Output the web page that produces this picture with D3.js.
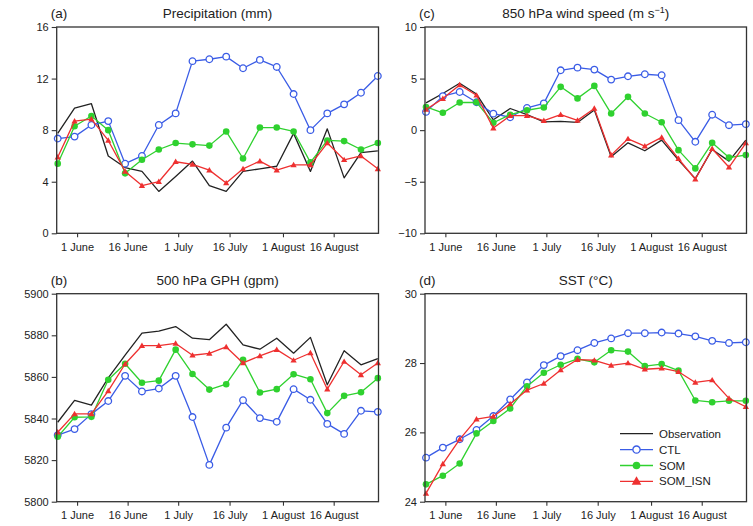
<!DOCTYPE html>
<html>
<head>
<meta charset="utf-8">
<script src="https://cdn.jsdelivr.net/npm/d3@7"></script>
<style>
  body { margin: 0; background: #fff; }
  svg { font-family: "Liberation Sans", Arial, Helvetica, sans-serif; }
</style>
</head>
<body>
<div class="chartContainer"></div>
<script>
// pentad means, one point every 5 days from 26 May
var pentads = ["26 May", "31 May", "5 Jun", "10 Jun", "15 Jun", "20 Jun", "25 Jun", "30 Jun", "5 Jul", "10 Jul",
  "15 Jul", "20 Jul", "25 Jul", "30 Jul", "4 Aug", "9 Aug", "14 Aug", "19 Aug", "24 Aug", "29 Aug"];

// x axis labels and where they fall (in pentad units)
var xTickLabels = ["1 June", "16 June", "1 July", "16 July", "1 August", "16 August"];
var xTickPentad = [1.15, 4.15, 7.15, 10.2, 13.37, 16.38];

var legendNames = ["Observation", "CTL", "SOM", "SOM_ISN"];

// (a) precipitation (mm)
var precipObs = [7.75, 9.7, 10.05, 6.0, 5.1, 4.8, 3.25, 4.4, 5.6, 3.7, 3.25, 4.8, 5.0, 5.2, 7.75, 4.8, 8.1, 4.3, 6.25, 6.4];
var precipCtl = [7.35, 7.5, 8.4, 8.7, 5.4, 6.0, 8.4, 9.3, 13.35, 13.5, 13.7, 12.8, 13.45, 12.9, 10.8, 8.0, 9.3, 10.0, 10.9, 12.2];
var precipSom = [5.4, 8.3, 9.1, 8.0, 4.65, 5.7, 6.5, 7.0, 6.9, 6.8, 7.9, 5.8, 8.2, 8.2, 7.9, 5.5, 7.2, 7.15, 6.5, 7.0];
var precipIsn = [5.9, 8.7, 8.85, 7.2, 4.8, 3.7, 4.0, 5.55, 5.35, 4.9, 3.9, 5.0, 5.6, 4.9, 5.3, 5.3, 7.0, 5.7, 6.0, 5.0];

// (c) 850 hPa wind speed (m/s)
var windObs = [2.65, 3.55, 4.55, 3.5, 1.0, 2.1, 1.5, 0.8, 0.85, 0.75, 1.95, -2.58, -1.23, -2.0, -0.97, -2.9, -4.7, -1.87, -3.0, -0.97];
var windCtl = [1.77, 3.3, 3.7, 2.7, 1.6, 1.25, 2.15, 2.6, 5.8, 6.06, 5.87, 4.9, 5.22, 5.42, 5.32, 0.97, -1.13, 1.5, 0.48, 0.58];
var windSom = [2.25, 1.68, 2.68, 2.7, 0.72, 1.5, 1.93, 2.2, 4.2, 3.08, 4.29, 1.61, 3.23, 1.61, 0.77, -1.94, -3.71, -1.23, -2.65, -2.42];
var windIsn = [2.0, 3.06, 4.38, 3.38, 0.2, 1.4, 1.4, 0.92, 1.5, 0.95, 2.1, -2.42, -0.84, -1.55, -0.7, -2.77, -4.76, -1.8, -3.6, -1.25];

// (b) 500 hPa geopotential height (gpm)
var gphObs = [5838.2, 5848.7, 5846.4, 5859.5, 5870.5, 5881, 5882, 5884.2, 5878.6, 5877.9, 5885.3, 5875.4, 5873.3, 5878.6, 5871.4, 5879, 5856.2, 5872.6, 5865.8, 5868.8];
var gphCtl = [5832, 5834.9, 5842.1, 5848.4, 5860.5, 5853, 5854.4, 5860.5, 5840.7, 5817.7, 5835.6, 5848.8, 5840.2, 5838.4, 5854.1, 5849, 5837.4, 5832.6, 5843.7, 5843.2];
var gphSom = [5831.2, 5840.6, 5840.8, 5858.6, 5866.3, 5857.2, 5858.2, 5873.1, 5861.4, 5853.9, 5856.5, 5868.2, 5852.5, 5854.1, 5861.3, 5858.9, 5842.6, 5850.9, 5852.6, 5859.4];
var gphIsn = [5833.4, 5842.2, 5842.2, 5853.3, 5866.2, 5875, 5875, 5876.1, 5870.4, 5871.3, 5874.4, 5866.7, 5870.1, 5873.1, 5868, 5871.5, 5854.1, 5867.4, 5861, 5866.7];

// (d) SST (°C) - CTL is forced by the observed SST, so no separate obs curve
var sstCtl = [25.27, 25.56, 25.8, 26.07, 26.47, 26.95, 27.44, 27.94, 28.2, 28.37, 28.58, 28.71, 28.86, 28.86, 28.88, 28.85, 28.77, 28.64, 28.58, 28.6];
var sstSom = [24.5, 24.75, 25.1, 25.97, 26.33, 26.69, 27.33, 27.72, 27.95, 28.12, 28.02, 28.37, 28.33, 27.91, 27.97, 27.78, 26.92, 26.87, 26.91, 26.91];
var sstIsn = [24.24, 25.09, 25.8, 26.38, 26.46, 26.82, 27.22, 27.41, 27.8, 28.1, 28.08, 27.93, 28.0, 27.82, 27.85, 27.75, 27.44, 27.51, 26.98, 26.74];

// colours / marker styles per series
var styles = {
  obs: { color: "#222222", marker: null },
  ctl: { color: "#3a5ce6", marker: "open" },
  som: { color: "#2fd12f", marker: "dot" },
  isn: { color: "#ee3030", marker: "tri" }
};

var svgWidth = 753;
var svgHeight = 526;

var svg = d3.select(".chartContainer")
  .append("svg")
  .attr("width", svgWidth)
  .attr("height", svgHeight);

// each panel: label, title, box, y range and its series
var panels = [
  { label: "(a)", title: ["Precipitation (mm)"], left: 56.7, top: 27, right: 378.5, bottom: 233.3,
    yDomain: [0, 16], yStep: 4,
    series: [["obs", precipObs], ["ctl", precipCtl], ["som", precipSom], ["isn", precipIsn]] },
  { label: "(c)", title: ["850 hPa wind speed (m s", "\u22121", ")"], left: 425, top: 27, right: 746.5, bottom: 233.3,
    yDomain: [-10, 10], yStep: 5,
    series: [["obs", windObs], ["ctl", windCtl], ["som", windSom], ["isn", windIsn]] },
  { label: "(b)", title: ["500 hPa GPH (gpm)"], left: 56.7, top: 293.7, right: 378.5, bottom: 501.7,
    yDomain: [5800, 5900], yStep: 20,
    series: [["obs", gphObs], ["ctl", gphCtl], ["som", gphSom], ["isn", gphIsn]] },
  { label: "(d)", title: ["SST (\u00b0C)"], left: 425, top: 293.7, right: 746.5, bottom: 501.7,
    yDomain: [24, 30], yStep: 2, legend: true,
    series: [["ctl", sstCtl], ["som", sstSom], ["isn", sstIsn]] }
];

// draw a marker of a given style into a selection
function addMarker(sel, kind, color, big) {
  if (kind == "open") {
    sel.append("circle").attr("r", big ? 3.6 : 3.3)
      .attr("fill", "#fff").attr("stroke", color).attr("stroke-width", 1.3);
  } else if (kind == "dot") {
    sel.append("circle").attr("r", big ? 3.8 : 3.3)
      .attr("fill", color);
  } else if (kind == "tri") {
    sel.append("path")
      .attr("d", d3.symbol().type(d3.symbolTriangle).size(big ? 40 : 17)())
      .attr("transform", "translate(0,0.5)")
      .attr("fill", color);
  }
}

panels.forEach(function (p) {
  var g = svg.append("g");

  var x = d3.scaleLinear()
    .domain([-0.06, 19.04])
    .range([p.left, p.right]);

  var y = d3.scaleLinear()
    .domain(p.yDomain)
    .range([p.bottom, p.top]);

  // x axis
  var bottomAxis = d3.axisBottom(x)
    .tickValues(xTickPentad)
    .tickFormat(function (d, i) { return xTickLabels[i]; })
    .tickSize(4)
    .tickPadding(6);

  var xAxis = g.append("g")
    .attr("transform", `translate(0, ${p.bottom})`)
    .call(bottomAxis);

  // y axis, plain integers (no thousands comma)
  var leftAxis = d3.axisLeft(y)
    .tickValues(d3.range(p.yDomain[0], p.yDomain[1] + 0.001, p.yStep))
    .tickFormat(d3.format("d"))
    .tickSize(5)
    .tickPadding(3);

  var yAxis = g.append("g")
    .attr("transform", `translate(${p.left}, 0)`)
    .call(leftAxis);

  [xAxis, yAxis].forEach(function (ax) {
    ax.select(".domain").remove();
    ax.selectAll("line").attr("stroke", "#333").attr("stroke-width", 1.1);
    ax.selectAll("text").attr("fill", "#222").style("font-size", "11px");
  });

  // series lines + markers
  p.series.forEach(function (s) {
    var st = styles[s[0]];
    var vals = s[1];

    var line = d3.line()
      .x(function (d, i) { return x(i); })
      .y(function (d) { return y(d); });

    g.append("path")
      .datum(vals)
      .attr("d", line)
      .attr("fill", "none")
      .attr("stroke", st.color)
      .attr("stroke-width", 1.3)
      .attr("stroke-linejoin", "round");

    if (st.marker) {
      g.selectAll(null)
        .data(vals)
        .enter()
        .append("g")
        .attr("transform", function (d, i) { return `translate(${x(i)}, ${y(d)})`; })
        .each(function () { addMarker(d3.select(this), st.marker, st.color, false); });
    }
  });

  // frame
  g.append("rect")
    .attr("x", p.left)
    .attr("y", p.top)
    .attr("width", p.right - p.left)
    .attr("height", p.bottom - p.top)
    .attr("fill", "none")
    .attr("stroke", "#333")
    .attr("stroke-width", 1.3);

  // panel letter
  g.append("text")
    .attr("x", p.left - 6)
    .attr("y", p.top - 9)
    .attr("fill", "#222")
    .style("font-size", "13.5px")
    .text(p.label);

  // title (with superscript when needed)
  var title = g.append("text")
    .attr("x", (p.left + p.right) / 2)
    .attr("y", p.top - 9)
    .attr("text-anchor", "middle")
    .attr("fill", "#222")
    .style("font-size", "13.5px");

  title.append("tspan").text(p.title[0]);
  if (p.title.length > 1) {
    title.append("tspan")
      .attr("dy", -5)
      .style("font-size", "9px")
      .text(p.title[1]);
    title.append("tspan")
      .attr("dy", 5)
      .text(p.title[2]);
  }

  // legend lives in the SST panel
  if (p.legend) {
    var keys = ["obs", "ctl", "som", "isn"];
    var legend = g.append("g")
      .attr("transform", `translate(${p.left + 195}, ${p.top + 140})`);

    keys.forEach(function (k, i) {
      var row = legend.append("g")
        .attr("transform", `translate(0, ${i * 15.9})`);

      row.append("line")
        .attr("x1", 0).attr("x2", 33)
        .attr("stroke", styles[k].color)
        .attr("stroke-width", 1.3);

      var m = row.append("g").attr("transform", "translate(16.5, 0)");
      addMarker(m, styles[k].marker, styles[k].color, true);

      row.append("text")
        .attr("x", 39)
        .attr("dy", "0.35em")
        .attr("fill", "#222")
        .style("font-size", "11.5px")
        .text(legendNames[i]);
    });
  }
});
</script>
</body>
</html>
